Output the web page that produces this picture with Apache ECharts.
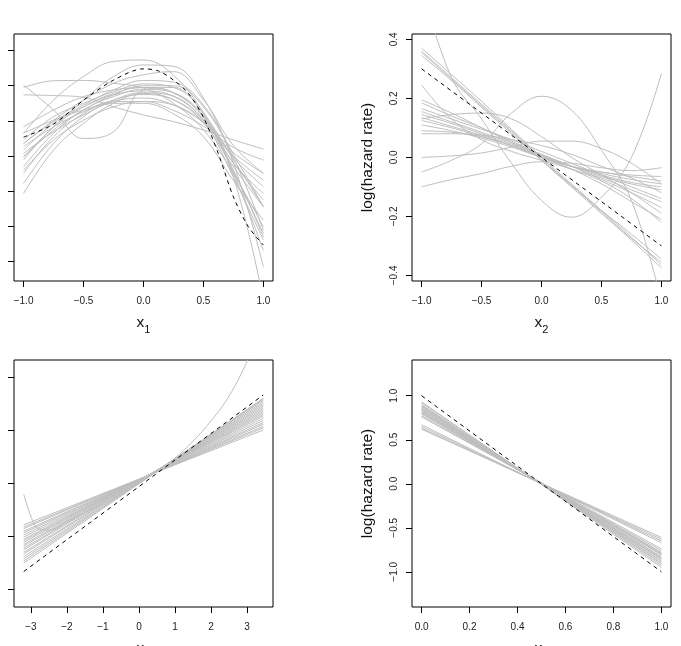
<!DOCTYPE html>
<html>
<head>
<meta charset="utf-8">
<script src="https://cdn.jsdelivr.net/npm/echarts@6/dist/echarts.min.js"></script>
<style>html,body{margin:0;padding:0;background:#fff;}#chart{width:681px;height:646px;}</style>
</head>
<body>
<div id="chart"></div>
<script>
// ---------- Panel 1 (x1) ----------
const p1X = [-1, -0.75, -0.5, -0.25, 0, 0.25, 0.5, 0.75, 1];
const p1TrueX = [-1, -0.75, -0.5, -0.25, 0, 0.125, 0.25, 0.375, 0.5, 0.625, 0.75, 0.875, 1];
const p1TrueY = [0.54, 0.91, 1.59, 2.16, 2.48, 2.42, 2.16, 1.78, 1.10, 0.06, -1.16, -2.01, -2.53];
const p1Curves = [
  [2.02, 1.31, 0.50, 0.69, 1.88, 1.95, 1.20, -0.10, -1.44],
  [1.95, 2.14, 2.15, 2.07, 1.93, 1.50, 0.75, -0.50, -2.01],
  [1.74, 1.72, 1.67, 1.40, 1.17, 0.98, 0.74, 0.46, 0.20],
  [0.65, 1.59, 2.26, 2.69, 2.73, 2.30, 1.20, -0.60, -4.10],
  [-0.02, 0.83, 1.59, 2.26, 2.59, 2.55, 1.65, -0.20, -3.15],
  [0.36, 1.02, 1.59, 2.07, 2.31, 2.40, 1.60, 0.30, -0.49],
  [-1.06, 0.17, 0.93, 1.50, 1.78, 1.60, 0.95, -0.30, -1.44],
  [-0.78, 0.36, 1.12, 1.59, 1.80, 1.70, 1.05, -0.05, -0.87],
  [-0.30, 0.65, 1.31, 1.69, 1.90, 1.80, 1.15, -0.20, -1.06],
  [-0.11, 0.83, 1.40, 1.78, 1.95, 1.80, 1.10, -0.45, -2.20],
  [0.17, 0.93, 1.40, 1.74, 1.85, 1.70, 1.00, -0.60, -2.39],
  [0.46, 1.12, 1.50, 1.83, 2.05, 1.95, 1.25, -0.50, -2.68],
  [-0.49, 0.55, 1.21, 1.59, 1.75, 1.60, 1.00, -0.20, -1.25],
  [0.08, 0.69, 1.17, 1.55, 1.65, 1.45, 0.95, 0.10, -0.49],
  [0.27, 0.83, 1.26, 1.55, 1.55, 1.30, 0.85, 0.25, -0.11],
  [0.65, 1.02, 1.31, 1.50, 1.50, 1.20, 0.55, -0.70, -1.82],
  [0.83, 1.31, 1.69, 1.88, 1.95, 1.80, 1.10, -0.40, -2.30],
  [-0.40, 0.46, 1.02, 1.40, 1.55, 1.45, 0.95, 0.00, -0.68],
  [-0.02, 0.74, 1.31, 1.74, 2.00, 2.00, 1.40, -0.05, -2.11],
  [0.36, 0.98, 1.45, 1.88, 2.15, 2.10, 1.45, 0.05, -1.44]
];
const p1XTicks = [-1, -0.5, 0, 0.5, 1];
const p1YTicks = [-3, -2, -1, 0, 1, 2, 3];

// ---------- Panel 2 (x2) ----------
const p2X = [-1, -0.75, -0.5, -0.25, 0, 0.25, 0.5, 0.75, 1];
const p2TrueX = [-1, 1];
const p2TrueY = [0.3, -0.3];
const p2Curves = [
  [0.37, 0.28, 0.19, 0.095, 0.0, -0.09, -0.18, -0.27, -0.365],
  [0.36, 0.27, 0.18, 0.09, -0.005, -0.095, -0.185, -0.275, -0.355],
  [0.355, 0.265, 0.175, 0.085, -0.01, -0.1, -0.19, -0.28, -0.375],
  [0.345, 0.26, 0.17, 0.08, -0.01, -0.095, -0.18, -0.26, -0.345],
  [0.195, 0.15, 0.10, 0.05, 0.005, -0.04, -0.09, -0.15, -0.21],
  [0.185, 0.14, 0.10, 0.055, 0.01, -0.03, -0.075, -0.12, -0.17],
  [0.165, 0.13, 0.095, 0.06, 0.02, -0.02, -0.06, -0.10, -0.14],
  [0.155, 0.12, 0.085, 0.05, 0.01, -0.03, -0.065, -0.09, -0.11],
  [0.145, 0.115, 0.08, 0.045, 0.005, -0.03, -0.06, -0.085, -0.10],
  [0.135, 0.105, 0.075, 0.04, 0.005, -0.03, -0.055, -0.075, -0.09],
  [0.125, 0.10, 0.07, 0.04, 0.0, -0.03, -0.05, -0.065, -0.08],
  [0.11, 0.09, 0.065, 0.035, 0.0, -0.03, -0.05, -0.06, -0.065],
  [0.09, 0.085, 0.07, 0.04, 0.0, -0.04, -0.07, -0.11, -0.15],
  [0.08, 0.08, 0.075, 0.06, 0.04, 0.01, -0.03, -0.07, -0.12],
  [0.13, 0.145, 0.15, 0.13, 0.07, 0.0, -0.06, -0.12, -0.19],
  [0.0, 0.005, 0.015, 0.035, 0.055, 0.055, 0.03, -0.02, -0.09],
  [0.58, 0.27, 0.13, -0.02, -0.146, -0.203, -0.135, 0.0, 0.284],
  [-0.05, -0.01, 0.046, 0.15, 0.207, 0.16, 0.024, -0.146, -0.49],
  [0.245, 0.13, 0.06, 0.02, -0.01, -0.04, -0.08, -0.14, -0.22],
  [-0.10, -0.075, -0.055, -0.03, -0.015, -0.02, -0.035, -0.045, -0.035]
];
const p2XTicks = [-1, -0.5, 0, 0.5, 1];
const p2YTicks = [-0.4, -0.2, 0, 0.2, 0.4];

// ---------- Panel 3 (x3) ----------
const p3X = [-3.2, 3.45];
const p3TrueY = [-1.66, 1.67];
const p3Left  = [-0.78, -0.82, -0.85, -0.90, -0.93, -0.97, -1.01, -1.05, -1.08, -1.11, -1.15, -1.18, -1.22, -1.25, -1.30, -1.33, -1.38, -1.42, -1.46, -1.50];
const p3Right = [1.01, 1.05, 1.08, 1.12, 1.15, 1.19, 1.23, 1.27, 1.30, 1.33, 1.36, 1.39, 1.42, 1.45, 1.48, 1.51, 1.54, 1.57, 1.59, 1.61];
const p3OddX = [-3.2, -3.0, -2.8, -2.5, -2.0, -1.0, 0.0, 1.0, 1.5, 2.0, 2.5, 3.0, 3.2];
const p3OddY = [-0.2, -0.62, -0.85, -0.88, -0.72, -0.38, 0.0, 0.48, 0.8, 1.18, 1.65, 2.3, 2.65];
const p3XTicks = [-3, -2, -1, 0, 1, 2, 3];
const p3YTicks = [-2, -1, 0, 1, 2];

// ---------- Panel 4 (x4) ----------
const p4X = [0, 1];
const p4TrueY = [1.0, -1.0];
const p4Left  = [0.93, 0.92, 0.90, 0.89, 0.88, 0.87, 0.86, 0.85, 0.84, 0.83, 0.82, 0.81, 0.80, 0.79, 0.77, 0.76, 0.67, 0.65, 0.63, 0.62];
const p4Right = [-0.95, -0.93, -0.91, -0.90, -0.88, -0.88, -0.86, -0.85, -0.84, -0.83, -0.81, -0.80, -0.79, -0.78, -0.76, -0.74, -0.67, -0.65, -0.63, -0.61];
const p4XTicks = [0, 0.2, 0.4, 0.6, 0.8, 1.0];
const p4YTicks = [-1, -0.5, 0, 0.5, 1];

const yTitle = 'log(hazard rate)';
const xTitles = ['1', '2', '3', '4'];

// ---------- build ----------
const FONT = '"Liberation Sans", Arial, Helvetica, sans-serif';
const GRAY = '#bebebe';
const fmt1 = v => (v < 0 ? '\u2212' : '') + Math.abs(v).toFixed(1);
const fmt0 = v => (v < 0 ? '\u2212' : '') + Math.abs(v).toFixed(0);

const grids = [
  {left: 14, top: 34, width: 259, height: 247},
  {left: 412, top: 34, width: 259, height: 247},
  {left: 14, top: 360, width: 259, height: 247},
  {left: 412, top: 360, width: 259, height: 247}
].map(g => Object.assign({show: true, borderColor: '#000', borderWidth: 1, backgroundColor: 'transparent',
  containLabel: false, outerBoundsMode: 'none'}, g));

function xAxis(gi, min, max, ticks, fmt, sub) {
  return {
    gridIndex: gi, type: 'value', min: min, max: max, position: 'bottom',
    axisLine: {show: false, onZero: false}, splitLine: {show: false},
    axisTick: {show: true, length: 6, customValues: ticks, lineStyle: {color: '#000', width: 1}},
    axisLabel: {show: true, customValues: ticks, formatter: fmt, fontSize: 10, color: '#222', margin: 15, fontFamily: FONT},
    name: '{a|x}{b|' + sub + '}', nameLocation: 'middle', nameGap: 30,
    nameTextStyle: {fontFamily: FONT, color: '#111',
      rich: {a: {fontSize: 15.5, fontFamily: FONT, color: '#111', lineHeight: 24, verticalAlign: 'middle'},
             b: {fontSize: 11, fontFamily: FONT, color: '#111', verticalAlign: 'bottom', lineHeight: 24}}}
  };
}
function yAxis(gi, min, max, ticks, showLabels) {
  const ax = {
    gridIndex: gi, type: 'value', min: min, max: max, position: 'left',
    axisLine: {show: false, onZero: false}, splitLine: {show: false},
    axisTick: {show: true, length: 6, customValues: ticks, lineStyle: {color: '#000', width: 1}},
    axisLabel: {show: showLabels, customValues: ticks, formatter: fmt1, rotate: 90, fontSize: 10, color: '#222', margin: 13, fontFamily: FONT}
  };
  if (showLabels) {
    ax.name = yTitle; ax.nameLocation = 'middle'; ax.nameGap = 36;
    ax.nameTextStyle = {fontSize: 15.5, fontFamily: FONT, color: '#111'};
  }
  return ax;
}

const series = [];
function addLine(gi, xs, ys, dashed, smooth) {
  series.push({
    type: 'line', xAxisIndex: gi, yAxisIndex: gi,
    data: xs.map((x, i) => [x, ys[i]]),
    showSymbol: false, symbol: 'none', smooth: smooth, silent: true, clip: true,
    z: dashed ? 5 : 2,
    lineStyle: dashed ? {color: '#000', width: 1, type: [4, 4]} : {color: GRAY, width: 1}
  });
}
p1Curves.forEach(c => addLine(0, p1X, c, false, 0.4));
addLine(0, p1TrueX, p1TrueY, true, 0.3);
p2Curves.forEach(c => addLine(1, p2X, c, false, 0.4));
addLine(1, p2TrueX, p2TrueY, true, false);
p3Left.forEach((l, i) => addLine(2, p3X, [l, p3Right[i]], false, false));
addLine(2, p3OddX, p3OddY, false, 0.4);
addLine(2, p3X, p3TrueY, true, false);
p4Left.forEach((l, i) => addLine(3, p4X, [l, p4Right[i]], false, false));
addLine(3, p4X, p4TrueY, true, false);

const option = {
  animation: false,
  backgroundColor: '#fff',
  grid: grids,
  xAxis: [
    xAxis(0, -1.08, 1.08, p1XTicks, fmt1, xTitles[0]),
    xAxis(1, -1.08, 1.08, p2XTicks, fmt1, xTitles[1]),
    xAxis(2, -3.47, 3.72, p3XTicks, fmt0, xTitles[2]),
    xAxis(3, -0.04, 1.04, p4XTicks, fmt1, xTitles[3])
  ],
  yAxis: [
    yAxis(0, -3.55, 3.47, p1YTicks, false),
    yAxis(1, -0.419, 0.418, p2YTicks, true),
    yAxis(2, -2.33, 2.33, p3YTicks, false),
    yAxis(3, -1.40, 1.406, p4YTicks, true)
  ],
  series: series
};
const chart = echarts.init(document.getElementById('chart'), null, {renderer: 'canvas'});
chart.setOption(option);
</script>
</body>
</html>
